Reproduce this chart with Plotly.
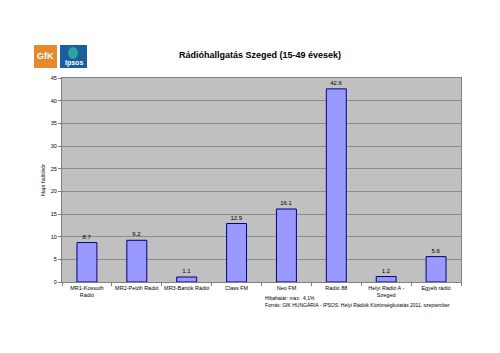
import plotly.graph_objects as go

categories = ["MR1-Kossuth<br>Rádió", "MR2-Petőfi Rádió", "MR3-Bartók Rádió", "Class FM",
              "Neo FM", "Rádió 88", "Helyi Rádió A -<br>Szeged", "Egyéb rádió"]
values = [8.7, 9.2, 1.1, 12.9, 16.1, 42.6, 1.2, 5.6]
y_ticks = [0, 5, 10, 15, 20, 25, 30, 35, 40, 45]

fig = go.Figure()
fig.add_trace(go.Bar(
    x=categories, y=values, width=0.4,
    marker=dict(color="#9999FF", line=dict(color="#000080", width=1)),
    text=[f"{v:.1f}" for v in values], textposition="outside",
    textfont=dict(family="Arial", size=6, color="#000000"),
    cliponaxis=False,
))

fig.update_layout(
    width=500, height=353,
    margin=dict(l=62, r=39, t=78, b=71),
    paper_bgcolor="#FFFFFF", plot_bgcolor="#C0C0C0",
    showlegend=False, bargap=0.6,
    font=dict(family="Arial", size=6, color="#000000"),
    title=dict(text="<b>Rádióhallgatás Szeged (15-49 évesek)</b>", x=0.52, xanchor="center",
               y=0.845, yanchor="middle", font=dict(family="Arial", size=9, color="#000")),
    xaxis=dict(showgrid=False, ticks="outside", tickson="boundaries", ticklen=3, tickangle=0,
               tickcolor="#808080", showline=True, linecolor="#808080", mirror=True,
               tickfont=dict(family="Arial", size=5.5)),
    yaxis=dict(range=[0, 45], tickvals=y_ticks, ticks="outside", ticklen=3, tickcolor="#808080",
               showgrid=True, gridcolor="#8C8C8C", gridwidth=1, showline=True, linecolor="#808080",
               mirror=True, zeroline=False, tickfont=dict(family="Arial", size=5.5),
               title=dict(text="Napi hallókör", font=dict(family="Arial", size=5.5), standoff=4)),
)

# logos
fig.add_shape(type="rect", xref="paper", yref="paper", x0=(34-62)/399, x1=(57-62)/399,
              y0=(282-68)/204, y1=(282-45)/204, fillcolor="#E8892B", line=dict(width=0))
fig.add_shape(type="rect", xref="paper", yref="paper", x0=(60-62)/399, x1=(87-62)/399,
              y0=(282-68)/204, y1=(282-45)/204, fillcolor="#1B5E9E", line=dict(width=0))
fig.add_shape(type="circle", xref="paper", yref="paper", x0=(68-62)/399, x1=(78-62)/399,
              y0=(282-59)/204, y1=(282-47)/204, fillcolor="#2BA3A0", line=dict(width=0))
fig.add_annotation(text="<b>GfK</b>", xref="paper", yref="paper", x=(45.5-62)/399, y=(282-56.5)/204,
                   xanchor="center", yanchor="middle",
                   showarrow=False, font=dict(family="Arial", size=9, color="#FFFFFF"))
fig.add_annotation(text="<b>Ipsos</b>", xref="paper", yref="paper", x=(73.5-62)/399, y=(282-63)/204,
                   xanchor="center", yanchor="middle",
                   showarrow=False, font=dict(family="Arial", size=7, color="#FFFFFF"))

# footnote
fig.add_annotation(text="Hibahatár: max.  4,1%<br>Forrás: GfK HUNGÁRIA - IPSOS: Helyi Rádiók Közönségkutatás 2011. szeptember",
                   xref="paper", yref="paper", x=(263-62)/399, y=(282-293)/204, xanchor="left",
                   yanchor="top", align="left", showarrow=False,
                   font=dict(family="Arial", size=5, color="#000"))

fig.write_html("out.html")
